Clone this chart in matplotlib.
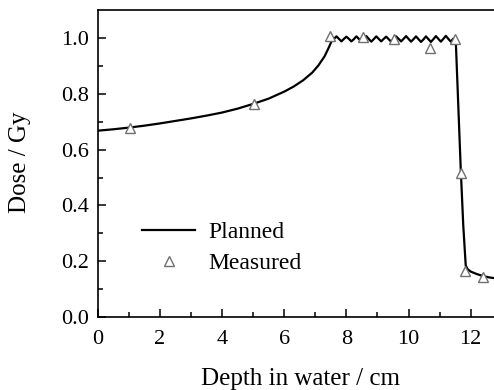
import matplotlib.pyplot as plt

plt.rcParams['font.family'] = ['Liberation Serif', 'DejaVu Serif']

# planned depth-dose curve
plan_x = [0, 0.5, 1, 1.5, 2, 2.5, 3, 3.5, 4, 4.5, 5, 5.5, 6, 6.3, 6.6, 6.9, 7.1, 7.3, 7.45, 7.55,
          7.60, 7.68, 7.76, 7.84, 7.92, 8.00, 8.08, 8.16, 8.24, 8.32, 8.40, 8.48, 8.56, 8.64,
          8.72, 8.80, 8.88, 8.96, 9.04, 9.12, 9.20, 9.28, 9.36, 9.44, 9.52, 9.60, 9.68, 9.76,
          9.84, 9.92, 10.00, 10.08, 10.16, 10.24, 10.32, 10.40, 10.48, 10.56, 10.64, 10.72,
          10.80, 10.88, 10.96, 11.04, 11.12, 11.20, 11.28, 11.36, 11.44,
          11.52, 11.6, 11.68, 11.76, 11.84, 11.9, 12.0, 12.2, 12.4, 12.6, 12.8]
plan_y = [0.668, 0.673, 0.679, 0.686, 0.694, 0.703, 0.712, 0.722, 0.733, 0.747, 0.764, 0.783, 0.808,
          0.826, 0.848, 0.876, 0.902, 0.935, 0.970, 0.996,
          0.997, 1.006, 0.997, 0.988, 0.997, 1.005, 0.997, 0.988, 0.996, 1.006, 0.997, 0.989,
          0.997, 1.007, 0.997, 0.987, 0.996, 1.006, 0.997, 0.988, 0.997, 1.005, 0.996, 0.987,
          0.996, 1.006, 0.997, 0.988, 0.997, 1.007, 0.997, 0.987, 0.996, 1.006, 0.996, 0.986,
          0.995, 1.006, 0.996, 0.986, 0.996, 1.007, 0.997, 0.987, 0.997, 1.008, 0.997, 0.987,
          0.998,
          0.99, 0.76, 0.53, 0.33, 0.185, 0.172, 0.163, 0.154, 0.147, 0.142, 0.139]

# measured points
meas_x = [1.02, 5.04, 7.47, 8.52, 9.53, 10.69, 11.5, 11.69, 11.82, 12.41]
meas_y = [0.678, 0.765, 1.008, 1.005, 0.997, 0.963, 0.997, 0.515, 0.165, 0.145]

fig = plt.figure(figsize=(4.94, 3.9), dpi=100)
ax = fig.add_axes([0.198, 0.187, 0.802, 0.787])

ax.plot(plan_x, plan_y, color='black', lw=1.6, label='Planned')
ax.plot(meas_x, meas_y, ls='none', marker='^', ms=7, mfc='white', mec='#707070', mew=1.0,
        label='Measured')

ax.set_xlim(0, 12.75)
ax.set_ylim(0, 1.1)
ax.set_xticks([0, 2, 4, 6, 8, 10, 12])
ax.set_xticks([1, 3, 5, 7, 9, 11], minor=True)
ax.set_yticks([0.0, 0.2, 0.4, 0.6, 0.8, 1.0])
ax.set_yticklabels(['0.0', '0.2', '0.4', '0.6', '0.8', '1.0'])
ax.set_yticks([0.1, 0.3, 0.5, 0.7, 0.9], minor=True)
ax.tick_params(which='both', direction='in', labelsize=16, width=1.1)
ax.tick_params(which='major', length=6)
ax.tick_params(which='minor', length=3.5)
ax.tick_params(axis='x', which='major', pad=9)
ax.tick_params(axis='y', which='major', pad=6)
ax.spines['right'].set_visible(False)
for s in ['left', 'bottom', 'top']:
    ax.spines[s].set_linewidth(1.2)

ax.set_xlabel('Depth in water / cm', fontsize=18)
ax.set_ylabel('Dose / Gy', fontsize=18)
ax.xaxis.set_label_coords(0.511, -0.165)
ax.yaxis.set_label_coords(-0.168, 0.503)

ax.legend(loc='upper left', bbox_to_anchor=(0.112, 0.312), frameon=False, fontsize=17,
          handlelength=2.25, handletextpad=0.55, labelspacing=0.42,
          borderpad=0, borderaxespad=0)

fig.savefig('out.png', dpi=100)
